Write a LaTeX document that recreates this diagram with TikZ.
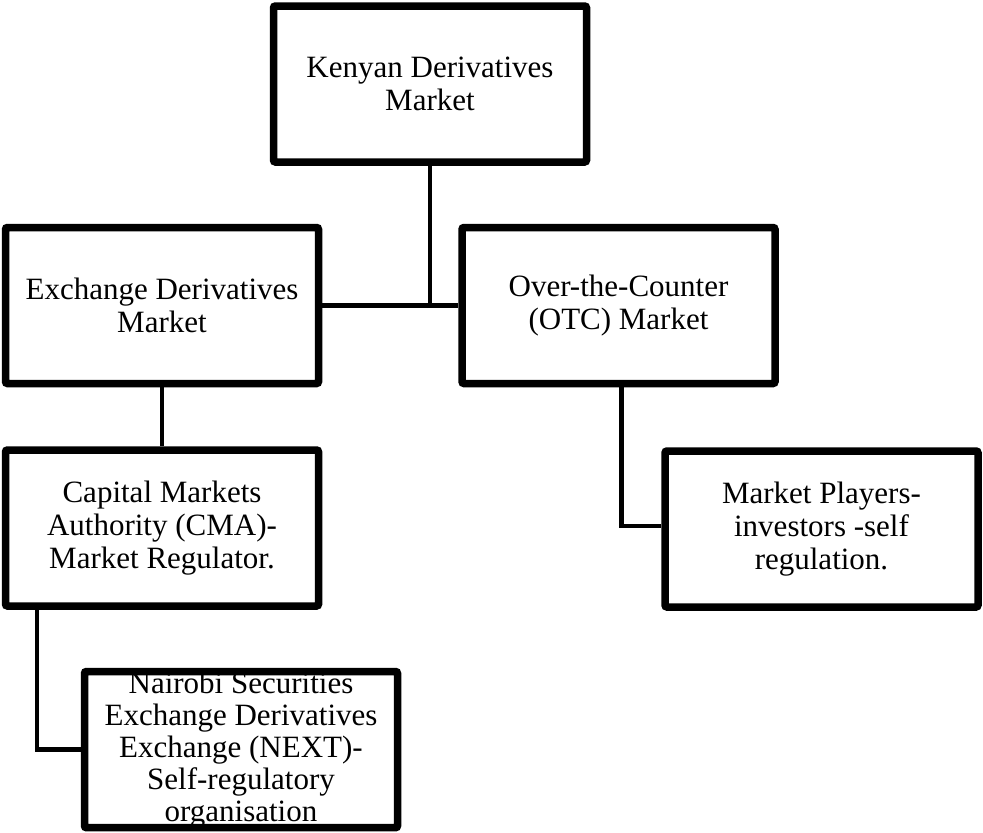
\documentclass[tikz,border=0pt]{standalone}
\usepackage{fontspec}
\setmainfont{Liberation Serif}
\usetikzlibrary{positioning}

\begin{document}
\begin{tikzpicture}[x=1pt,y=-1pt,box/.style={draw,line width=7.5pt,rounded corners=2pt,align=center,inner sep=0pt,minimum width=313pt,minimum height=156pt,font=\fontsize{31}{33}\selectfont},conn/.style={line width=4.5pt}]
\useasboundingbox (0,0) rectangle (983,833);
\node[box] (kdm) at (430,84) {Kenyan Derivatives\\Market};
\node[box] (exch) at (162,305.5) {Exchange Derivatives\\Market};
\node[box,right=136pt of exch] (otc) {Over-the-Counter\\(OTC) Market};
\node[box,below=59pt of exch] (cma) {Capital Markets\\Authority (CMA)-\\Market Regulator.};
\node[box,below=58pt of cma,xshift=79pt,font=\fontsize{31}{32}\selectfont] (next) {Nairobi Securities\\Exchange Derivatives\\Exchange (NEXT)-\\Self-regulatory\\organisation};
\node[box,below=60pt of otc,xshift=203pt] (mpl) {Market Players-\\investors -self\\regulation.};
\draw[conn](kdm.south)--(kdm.south|-exch.east);\draw[conn](exch.east)--(otc.west);
\draw[conn](exch)--(cma);
\draw[conn]([xshift=3pt]otc.south)|-([yshift=3pt]mpl.west);
\draw[conn]([xshift=35pt]cma.south west)|-(next.west);
\end{tikzpicture}
\end{document}
